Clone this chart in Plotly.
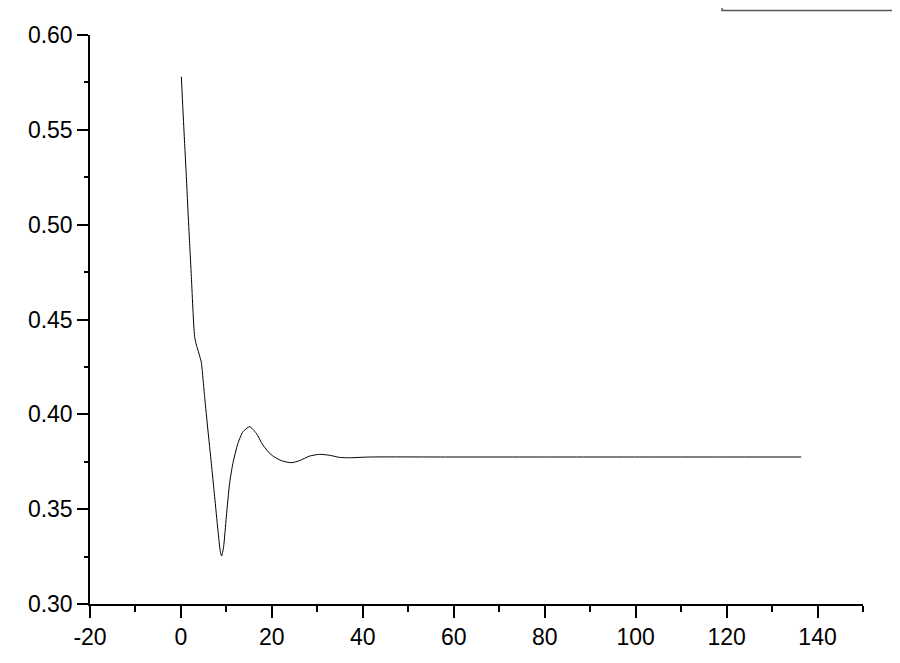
import plotly.graph_objects as go

# Time series values
x_vals = [0.09, 0.44, 0.81, 1.19, 1.54, 1.91, 2.29, 2.64, 3.01, 3.40, 3.74, 4.26,
          4.48, 5.21, 5.93, 6.68, 7.41, 8.13, 8.66, 8.95, 9.38, 9.98, 10.7, 11.43,
          12.53, 13.63, 15.1, 16.57, 18.02, 19.87, 22.07, 24.26, 26.1, 28.3, 30.5,
          32.7, 34.9, 37.1, 41.5, 60.0, 80.0, 100.0, 120.0, 136.4]
y_vals = [0.5780, 0.5605, 0.5429, 0.5253, 0.5077, 0.4902, 0.4726, 0.4550, 0.4409, 0.4365, 0.4339, 0.4295,
          0.4275, 0.4093, 0.3917, 0.3742, 0.3566, 0.3390, 0.3276, 0.3253, 0.3302, 0.3460, 0.3636, 0.3742,
          0.3847, 0.3908, 0.3935, 0.3900, 0.3838, 0.3786, 0.3756, 0.3745, 0.3756, 0.3780, 0.3789,
          0.3784, 0.3773, 0.3771, 0.3775, 0.3775, 0.3775, 0.3775, 0.3775, 0.3775]

x_tick_vals = [-20, 0, 20, 40, 60, 80, 100, 120, 140]
x_tick_labels = ["-20", "0", "20", "40", "60", "80", "100", "120", "140"]
y_tick_vals = [0.30, 0.35, 0.40, 0.45, 0.50, 0.55, 0.60]
y_tick_labels = ["0.30", "0.35", "0.40", "0.45", "0.50", "0.55", "0.60"]
box_text = "0.00000"

FONT = "Liberation Sans, Arial, sans-serif"

fig = go.Figure()
fig.add_trace(go.Scatter(x=x_vals, y=y_vals, mode="lines", line_shape="spline",
                         line=dict(color="black", width=1, smoothing=0.6), showlegend=False))

fig.update_layout(
    width=884, height=647,
    margin=dict(l=82, r=29, t=27, b=51),
    paper_bgcolor="white", plot_bgcolor="white",
    font=dict(family=FONT, size=23, color="black"),
    xaxis=dict(range=[-20, 150], showgrid=False, zeroline=False, automargin=False,
               showline=True, linecolor="black", linewidth=1.5,
               ticks="outside", ticklen=12, tickwidth=1.5, tickcolor="black",
               tickvals=x_tick_vals, ticktext=x_tick_labels,
               minor=dict(ticks="outside", ticklen=6, tickwidth=1.5, tickcolor="black", dtick=10, tick0=-20)),
    yaxis=dict(range=[0.30, 0.60], showgrid=False, zeroline=False, automargin=False,
               showline=True, linecolor="black", linewidth=1.5,
               ticks="outside", ticklen=11, tickwidth=1.5, tickcolor="black",
               tickvals=y_tick_vals, ticktext=y_tick_labels,
               minor=dict(ticks="outside", ticklen=4, tickwidth=1.5, tickcolor="black", dtick=0.025, tick0=0.30)),
)

# partially visible box at the top-right corner
fig.add_shape(type="rect", xref="paper", yref="paper",
              x0=0.8176, x1=1.2, y0=1.0431, y1=1.3,
              line=dict(color="#555555", width=1.5), fillcolor="rgba(0,0,0,0)")
fig.add_annotation(xref="paper", yref="paper", x=0.930, y=1.0431,
                   xanchor="left", yanchor="bottom", text=box_text, showarrow=False,
                   font=dict(family=FONT, size=23, color="black"))

fig.write_html("out.html")
